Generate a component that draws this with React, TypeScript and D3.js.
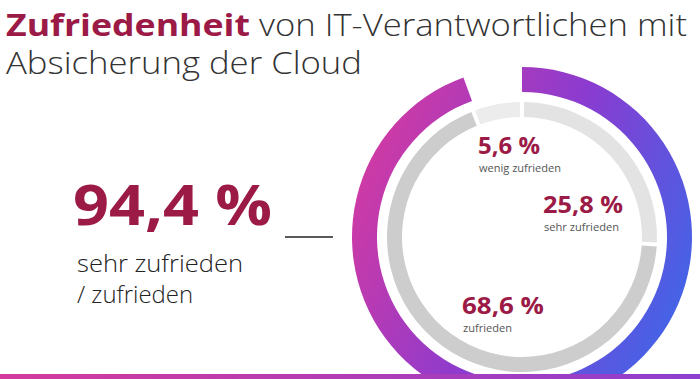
import React from "react";
import * as d3 from "d3";

const segLabels = ["sehr zufrieden", "zufrieden", "wenig zufrieden"];
const segValues = [25.8, 68.6, 5.6];
const segValueText = ["25,8 %", "68,6 %", "5,6 %"];
const segColors = ["#e3e3e3", "#cdcdcd", "#ececec"];
const totalShare = 94.4;
const totalText = "94,4 %";
const totalLabel = ["sehr zufrieden", "/ zufrieden"];
const titleBold = "Zufriedenheit";
const titleRest = "von IT-Verantwortlichen mit";
const titleLine2 = "Absicherung der Cloud";

const W = 700;
const H = 379;
const cx = 522;
const cy = 237;
const RED = "#9b1a46";
const FONT = "'Open Sans', Roboto, sans-serif";

// label layout per segment: [left x, value baseline, value width, label width]
const labelPos: Record<string, [number, number, number, number]> = {
  "sehr zufrieden": [543, 213, 80, 75],
  zufrieden: [462, 314, 82, 49],
  "wenig zufrieden": [478, 154, 62, 82],
};

export default function App() {
  const pie = d3
    .pie<number>()
    .sort(null)
    .value((d) => d)
    .padAngle(0.022);
  const arcs = pie(segValues);
  const innerArc = d3.arc<d3.PieArcDatum<number>>().innerRadius(120).outerRadius(135);

  const shareScale = d3.scaleLinear().domain([0, 100]).range([0, 2 * Math.PI]);
  const outerArc = d3.arc()({
    innerRadius: 145,
    outerRadius: 170,
    startAngle: 0,
    endAngle: shareScale(totalShare),
  } as any) as string;

  return (
    <svg
      width={W}
      height={H}
      style={{ position: "absolute", left: 0, top: 0, background: "#fff" }}
    >
      <defs>
        <linearGradient id="ringGrad" gradientUnits="userSpaceOnUse" x1={-170} y1={-70} x2={170} y2={75}>
          <stop offset="0" stopColor="#d23aa2" />
          <stop offset="0.5" stopColor="#8b3bd0" />
          <stop offset="1" stopColor="#3f66e8" />
        </linearGradient>
        <linearGradient id="barGrad" x1="0" y1="0" x2="1" y2="0">
          <stop offset="0" stopColor="#d43a9c" />
          <stop offset="1" stopColor="#8e3fcf" />
        </linearGradient>
        <clipPath id="clip">
          <rect x={0} y={0} width={W} height={374} />
        </clipPath>
      </defs>

      <text x={6} y={36} fontFamily={FONT} fontSize={31} fontWeight={700} fill={RED}
        textLength={244} lengthAdjust="spacingAndGlyphs">
        {titleBold}
      </text>
      <text x={259} y={36} fontFamily={FONT} fontSize={31} fontWeight={300} fill="#333"
        textLength={428} lengthAdjust="spacingAndGlyphs">
        {titleRest}
      </text>
      <text x={6} y={74} fontFamily={FONT} fontSize={31} fontWeight={300} fill="#333"
        textLength={356} lengthAdjust="spacingAndGlyphs">
        {titleLine2}
      </text>

      <text x={73} y={225} fontFamily={FONT} fontSize={56} fontWeight={700} fill={RED}
        textLength={199} lengthAdjust="spacingAndGlyphs">
        {totalText}
      </text>
      {totalLabel.map((t, i) => (
        <text key={t} x={77} y={272 + i * 31} fontFamily={FONT} fontSize={24} fontWeight={300} fill="#222"
          textLength={i === 0 ? 166 : 116} lengthAdjust="spacingAndGlyphs">
          {t}
        </text>
      ))}
      <line x1={285} x2={333} y1={237} y2={237} stroke="#222" strokeWidth={1.5} />

      <g clipPath="url(#clip)">
        <g transform={`translate(${cx},${cy})`}>
          <path d={outerArc} fill="url(#ringGrad)" />
          {arcs.map((a, i) => (
            <path key={segLabels[i]} d={innerArc(a) as string} fill={segColors[i]} />
          ))}
        </g>
      </g>

      {segLabels.map((lab, i) => {
        const [x, y, vw, lw] = labelPos[lab];
        return (
          <g key={lab}>
            <text x={x} y={y} fontFamily={FONT} fontSize={23} fontWeight={700} fill={RED}
              textLength={vw} lengthAdjust="spacingAndGlyphs">
              {segValueText[i]}
            </text>
            <text x={x + 1} y={y + 18} fontFamily={FONT} fontSize={11} fontWeight={400} fill="#555"
              textLength={lw} lengthAdjust="spacingAndGlyphs">
              {lab}
            </text>
          </g>
        );
      })}

      <rect x={0} y={374} width={W} height={5} fill="url(#barGrad)" />
    </svg>
  );
}
